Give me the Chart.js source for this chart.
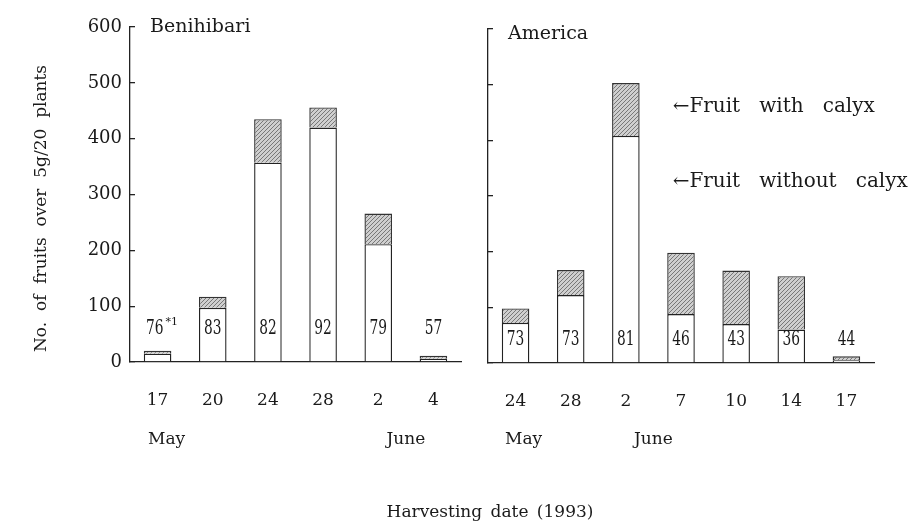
<!DOCTYPE html>
<html><head><meta charset="utf-8">
<script src="https://cdn.jsdelivr.net/npm/chart.js@4/dist/chart.umd.min.js"></script>
<style>
html,body{margin:0;padding:0;background:#fff;}
#wrap{position:relative;width:916px;height:528px;overflow:hidden;background:#fff;}
#cL{position:absolute;left:0;top:0;}
#cR{position:absolute;left:470px;top:0;}
#xt{position:absolute;left:290px;width:400px;top:501px;text-align:center;font:17px 'DejaVu Serif',serif;line-height:20px;color:#1a1a1a;word-spacing:3px;}
</style></head>
<body><div id="wrap">
<canvas id="cL" width="470" height="528"></canvas>
<canvas id="cR" width="446" height="528"></canvas>
<div id="xt">Harvesting date (1993)</div>
</div>
<script>
// ---- data ----
const leftDates = ['17','20','24','28','2','4'];
const leftWithout = [15, 97, 357, 420, 211, 6];
const leftWith = [5, 20, 78, 36, 55, 5];
const leftPct = ['76','83','82','92','79','57'];

const rightDates = ['24','28','2','7','10','14','17'];
const rightWithout = [72, 122, 408, 88, 70, 60, 5];
const rightWith = [26, 45, 95, 110, 96, 96, 7];
const rightPct = ['73','73','81','46','43','36','44'];

const yTicks = [0,100,200,300,400,500,600];

const FONT = "'DejaVu Serif', serif";
const INK = '#1a1a1a';

function hatch() {
  const c = document.createElement('canvas'); c.width = 4; c.height = 4;
  const g = c.getContext('2d');
  g.fillStyle = '#cfcfcf'; g.fillRect(0,0,4,4);
  g.strokeStyle = '#6e6e6e'; g.lineWidth = 0.9;
  g.beginPath();
  g.moveTo(0,4); g.lineTo(4,0);
  g.moveTo(-2,2); g.lineTo(2,-2);
  g.moveTo(2,6); g.lineTo(6,2);
  g.stroke();
  return g.createPattern(c, 'repeat');
}
const HATCH = hatch();

function datasets(without, withc) {
  return [
    {label:'Fruit without calyx', data: without, backgroundColor:'#fff', borderColor:'#222', borderWidth:1.4,
     barPercentage:0.5, categoryPercentage:1.0},
    {label:'Fruit with calyx', data: withc, backgroundColor: HATCH, borderColor:'#333', borderWidth:1.4,
     barPercentage:0.5, categoryPercentage:1.0}
  ];
}

function condensedText(ctx, txt, x, y) {
  ctx.save();
  ctx.translate(x, y);
  ctx.scale(0.9, 1.15);
  ctx.fillText(txt, 0, 0);
  ctx.restore();
}

function baseOptions(showY, yWidth, pad, xHeight) {
  return {
    responsive:false, animation:false, devicePixelRatio:1,
    layout:{padding:pad},
    plugins:{legend:{display:false}, tooltip:{enabled:false}},
    scales:{
      x:{stacked:true, offset:true,
         grid:{display:false, drawTicks:false},
         border:{display:true, color:'#222', width:1.3},
         ticks:{color:INK, font:{family:FONT, size:17}, padding:28, maxRotation:0},
         afterFit:s=>{s.height = xHeight;}},
      y:{stacked:true, min:0, max:600,
         afterBuildTicks:s=>{s.ticks = yTicks.map(v=>({value:v}));},
         grid:{drawOnChartArea:false, drawTicks:true, tickLength:-5, color:'#222', lineWidth:1.3},
         border:{display:true, color:'#222', width:1.3},
         ticks:{display:showY, color:INK, font:{family:FONT, size:18}, padding:13},
         afterFit:s=>{s.width = yWidth;}}
    }
  };
}

const leftPlugin = {
  id:'leftDeco',
  afterDraw(chart){
    const ctx = chart.ctx, xs = chart.scales.x, ys = chart.scales.y, a = chart.chartArea;
    ctx.save();
    ctx.fillStyle = INK;
    // panel title
    ctx.font = "19px " + FONT; ctx.textAlign='left'; ctx.textBaseline='middle';
    ctx.fillText('Benihibari', a.left + 20, ys.getPixelForValue(600));
    // percentages
    ctx.textAlign='center'; ctx.textBaseline='middle';
    ctx.font = "17px 'DejaVu Serif Condensed', " + FONT;
    const py = ys.getPixelForValue(60);
    leftPct.forEach((p,i)=>{
      const cx = xs.getPixelForValue(i);
      if (i === 0) {
        ctx.textAlign='right';
        condensedText(ctx, p, cx + 6, py);
        ctx.textAlign='left';
        ctx.font = "11px " + FONT;
        ctx.fillText('*1', cx + 8, py - 6);
        ctx.font = "17px 'DejaVu Serif Condensed', " + FONT;
        ctx.textAlign='center';
      } else {
        condensedText(ctx, p, cx, py);
      }
    });
    // months
    ctx.font = "17px " + FONT; ctx.textAlign='center';
    const my = a.bottom + 78;
    ctx.fillText('May', xs.getPixelForValue(0) + 9, my);
    ctx.fillText('June', (xs.getPixelForValue(4) + xs.getPixelForValue(5))/2, my);
    // y title
    ctx.save();
    ctx.translate(42, (ys.getPixelForValue(0) + ys.getPixelForValue(600))/2 + 14);
    ctx.rotate(-Math.PI/2);
    ctx.textAlign='center'; ctx.textBaseline='middle';
    ctx.font = "17px " + FONT;
    ctx.fillText('No.  of  fruits  over  5g/20  plants', 0, 0);
    ctx.restore();
    ctx.restore();
  }
};

const rightPlugin = {
  id:'rightDeco',
  afterDraw(chart){
    const ctx = chart.ctx, xs = chart.scales.x, ys = chart.scales.y, a = chart.chartArea;
    ctx.save();
    ctx.fillStyle = INK;
    ctx.font = "19px " + FONT; ctx.textAlign='left'; ctx.textBaseline='middle';
    ctx.fillText('America', a.left + 20, ys.getPixelForValue(600) + 5);
    // legend annotations next to tallest bar
    const meta = chart.getDatasetMeta(1).data[2];
    const lx = meta.x + meta.width/2 + 33;
    ctx.font = "20px " + FONT;
    ctx.fillText('\u2190Fruit   with   calyx', lx, ys.getPixelForValue(460));
    ctx.fillText('\u2190Fruit   without   calyx', lx, ys.getPixelForValue(325));
    // percentages
    ctx.textAlign='center';
    ctx.font = "17px 'DejaVu Serif Condensed', " + FONT;
    const py = ys.getPixelForValue(42);
    rightPct.forEach((p,i)=>{ condensedText(ctx, p, xs.getPixelForValue(i), py); });
    // months
    ctx.font = "17px " + FONT;
    const my = a.bottom + 77;
    ctx.fillText('May', xs.getPixelForValue(0) + 8, my);
    ctx.fillText('June', (xs.getPixelForValue(2) + xs.getPixelForValue(3))/2, my);
    ctx.restore();
  }
};

new Chart(document.getElementById('cL'), {
  type:'bar',
  data:{labels:leftDates, datasets:datasets(leftWithout, leftWith)},
  options: baseOptions(true, 130, {top:27, right:9, left:0, bottom:0}, 166),
  plugins:[leftPlugin]
});

new Chart(document.getElementById('cR'), {
  type:'bar',
  data:{labels:rightDates, datasets:datasets(rightWithout, rightWith)},
  options: baseOptions(false, 18, {top:29, right:42, left:0, bottom:0}, 165),
  plugins:[rightPlugin]
});
</script>
</body></html>
